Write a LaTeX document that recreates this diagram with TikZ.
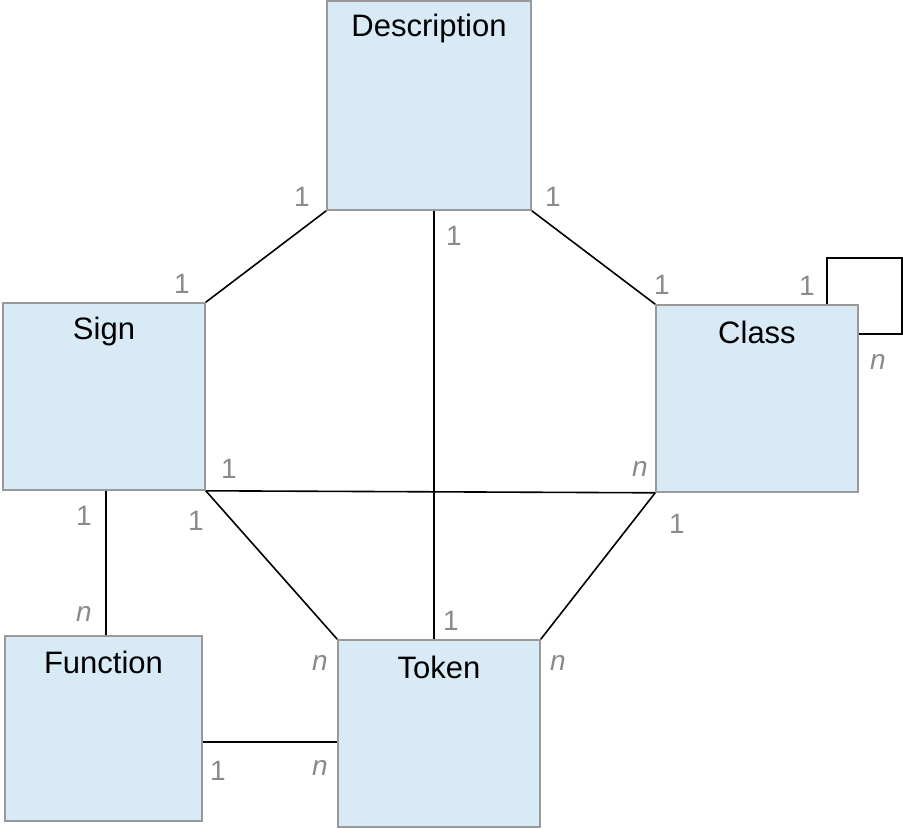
\documentclass[tikz,border=0pt]{standalone}
\usepackage{fontspec}
\setmainfont{Liberation Sans}
\usetikzlibrary{calc}
\definecolor{boxfill}{HTML}{D8EAF5}
\definecolor{boxline}{HTML}{999999}
\definecolor{lab}{HTML}{8A8A8A}
\begin{document}
\begin{tikzpicture}[x=1pt,y=-1pt,
  box/.style={draw=boxline,fill=boxfill,line width=1.6pt,rectangle,inner sep=0pt},
  title/.style={font=\fontsize{31}{31}\selectfont,text=black,inner sep=0pt},
  card/.style={font=\fontsize{28}{28}\selectfont,text=lab,inner sep=0pt},
  cardn/.style={card,font=\fontsize{28}{28}\selectfont\itshape},
  conn/.style={draw=black,line width=1.6pt}]
\useasboundingbox (0,0) rectangle (903,829);
% boxes
\node[box,minimum width=204pt,minimum height=209pt] (desc) at (429,105.5) {};
\node[box,minimum width=202pt,minimum height=187pt] (sign) at (104,396.5) {};
\node[box,minimum width=202pt,minimum height=187pt] (cls) at (757,398.5) {};
\node[box,minimum width=197pt,minimum height=185pt] (func) at (103.5,728.5) {};
\node[box,minimum width=202pt,minimum height=187pt] (tok) at (439,733.5) {};
% titles
\node[title] (tdesc) at ($(desc.north)+(0,28)$) {Description};
\node[title] (tsign) at ($(sign.north)+(0,29)$) {Sign};
\node[title] (tcls) at ($(cls.north)+(0,28)$) {Class};
\node[title] (tfunc) at ($(func.north)+(0,27)$) {Function};
\node[title] (ttok) at ($(tok.north)+(0,28)$) {Token};
% helper coordinates
\coordinate (vx) at (434,0);
\coordinate (fx) at (106,0);
\coordinate (hy) at (0,742);
\coordinate (lx) at (827,0);
\coordinate (ltop) at (0,258);
\coordinate (lr) at (902,334);
% connectors
\draw[conn] (desc.south west) -- (sign.north east);
\draw[conn] (desc.south east) -- (cls.north west);
\draw[conn] (desc.south -| vx) -- (tok.north -| vx);
\draw[conn] (sign.south east) -- (cls.south west);
\draw[conn] (sign.south east) -- (tok.north west);
\draw[conn] (cls.south west) -- (tok.north east);
\draw[conn] (sign.south -| fx) -- (func.north -| fx);
\draw[conn] (func.east |- hy) -- (tok.west |- hy);
\draw[conn] (cls.north -| lx) -- (lx |- ltop) -| (lr) -- (cls.east |- lr);
% cardinalities
\node[card] (c1) at (302,197) {1};
\node[card] (c2) at (553,197) {1};
\node[card] (c3) at (454,236) {1};
\node[card] (c4) at (182,284) {1};
\node[card] (c5) at (662,285) {1};
\node[card] (c6) at (807,286) {1};
\node[cardn] (c7) at (878,362) {n};
\node[card] (c8) at (229,469) {1};
\node[cardn] (c9) at (640,469) {n};
\node[card] (c10) at (84,516) {1};
\node[card] (c11) at (196,521) {1};
\node[card] (c12) at (677,524) {1};
\node[cardn] (c13) at (84,614) {n};
\node[card] (c14) at (451,621) {1};
\node[cardn] (c15) at (320,663) {n};
\node[cardn] (c16) at (558,663) {n};
\node[card] (c17) at (218,771) {1};
\node[cardn] (c18) at (320,768) {n};
\end{tikzpicture}
\end{document}
